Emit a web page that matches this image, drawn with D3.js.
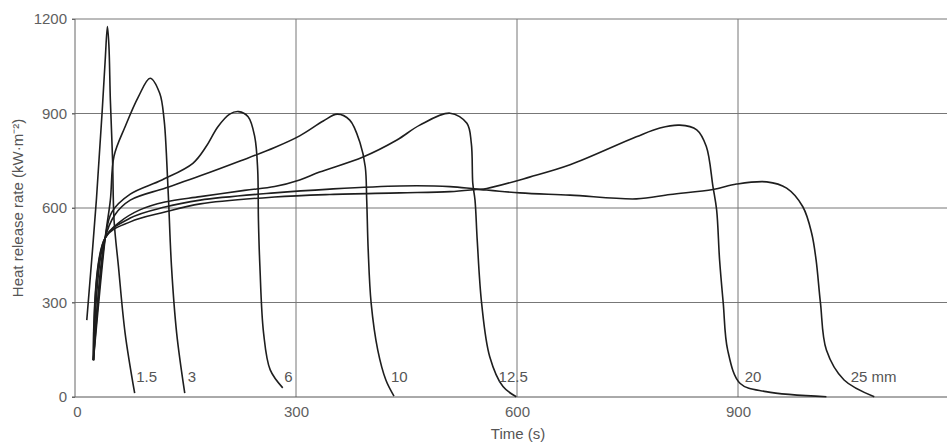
<!DOCTYPE html>
<html>
<head>
<meta charset="utf-8">
<script src="https://cdn.jsdelivr.net/npm/d3@7"></script>
<style>
  body { margin: 0; background: #fff; }
  svg { display: block; font-family: "Liberation Sans", Arial, sans-serif; }
  .grid line { stroke: #777; stroke-width: 1; }
  .axis path, .axis line { stroke: #666; }
  .axis text { fill: #606060; font-size: 15px; }
  .curve { fill: none; stroke: #1e1e1e; stroke-width: 1.6; }
  .curve-label { fill: #555; font-size: 15px; }
  .title { fill: #555; font-size: 15px; }
</style>
</head>
<body>
<div id="chart"></div>
<script>
// heat release rate vs time for different sample thicknesses
var thickness = ["1.5", "3", "6", "10", "12.5", "20", "25 mm"];
var xTicks = [0, 300, 600, 900];
var yTicks = [0, 300, 600, 900, 1200];

// [time (s), HRR (kW/m2)]
var hrr1_5 = [[16,244],[29,625],[37,911],[41,1070],[44,1176],[46,1117],[48,943],[51,752],[53,562],[59,414],[68,203],[81,12]];
var hrr3 = [[25,117],[41,505],[48,625],[53,765],[68,858],[86,953],[102,1012],[115,964],[121,879],[124,775],[127,625],[131,414],[138,203],[149,12]];
var hrr6 = [[25,117],[41,505],[50,587],[75,644],[118,689],[160,742],[178,795],[194,858],[210,898],[222,906],[235,890],[244,826],[248,721],[249,562],[251,414],[256,203],[265,86],[282,29]];
var hrr10 = [[25,117],[41,505],[54,578],[75,625],[122,663],[170,702],[224,749],[271,792],[305,829],[337,876],[356,898],[373,879],[387,806],[394,731],[396,625],[398,467],[402,298],[411,149],[422,54],[433,3]];
var hrr12_5 = [[25,117],[41,505],[61,556],[88,594],[122,619],[170,636],[230,656],[271,668],[305,689],[332,714],[391,762],[437,816],[468,863],[509,901],[532,869],[538,805],[540,678],[543,625],[546,498],[552,297],[563,128],[581,33],[599,1]];
var hrr20 = [[25,117],[41,505],[75,556],[122,587],[170,613],[271,635],[346,643],[441,648],[509,652],[545,659],[559,662],[617,698],[672,737],[762,826],[794,854],[821,863],[844,848],[857,795],[866,668],[871,594],[875,435],[880,297],[886,149],[903,43],[938,17],[1020,1]];
var hrr25 = [[25,117],[41,505],[75,568],[122,603],[170,625],[271,648],[346,660],[441,670],[509,668],[545,660],[604,648],[672,641],[762,629],[808,643],[866,659],[898,676],[939,683],[966,663],[988,604],[1000,520],[1006,435],[1012,297],[1020,149],[1044,54],[1085,1]];

// where each thickness label sits (time s)
var labelTimes = [83, 153, 284, 429, 575, 909, 1053];
var labelValue = 48;

var series = [hrr1_5, hrr3, hrr6, hrr10, hrr12_5, hrr20, hrr25];

var width = 947, height = 443;
var svg = d3.select("#chart").append("svg")
    .attr("width", width)
    .attr("height", height);

var x = d3.scaleLinear().domain([0, 1200]).range([75, 959]);
var y = d3.scaleLinear().domain([0, 1200]).range([397, 19]);

// grid
var grid = svg.append("g").attr("class", "grid");
grid.selectAll(".hgrid")
    .data(yTicks.filter(function(d) { return d > 0; }))
    .enter().append("line")
    .attr("x1", x(0) - 3).attr("x2", width)
    .attr("y1", function(d) { return y(d); })
    .attr("y2", function(d) { return y(d); });
grid.selectAll(".vgrid")
    .data(xTicks.filter(function(d) { return d > 0; }))
    .enter().append("line")
    .attr("stroke", "#888")
    .attr("x1", function(d) { return x(d); })
    .attr("x2", function(d) { return x(d); })
    .attr("y1", y(1200)).attr("y2", y(0));

// axes
svg.append("g")
    .attr("class", "axis")
    .attr("transform", "translate(0," + y(0) + ")")
    .call(d3.axisBottom(x).tickValues(xTicks).tickSize(0).tickPadding(9))
    .call(function(g) { g.select(".domain").remove(); })
    .call(function(g) { g.selectAll(".tick text").attr("dx", function(d) { return d === 0 ? 2 : 0; }); });
svg.append("line")
    .attr("x1", x(0) - 3).attr("x2", width)
    .attr("y1", y(0)).attr("y2", y(0))
    .attr("stroke", "#555");

svg.append("g")
    .attr("class", "axis")
    .attr("transform", "translate(" + x(0) + ",0)")
    .call(d3.axisLeft(y).tickValues(yTicks).tickFormat(d3.format("d")).tickSize(3).tickPadding(5).tickSizeOuter(0))
    .call(function(g) { g.select(".domain").attr("d", "M0," + y(0) + "V" + y(1200)); });

// curves
var line = d3.line()
    .x(function(d) { return x(d[0]); })
    .y(function(d) { return y(d[1]); })
    .curve(d3.curveCatmullRom.alpha(0.5));

svg.append("g")
    .selectAll(".curve")
    .data(series)
    .enter().append("path")
    .attr("class", "curve")
    .attr("d", line);

svg.append("g")
    .selectAll(".curve-label")
    .data(thickness)
    .enter().append("text")
    .attr("class", "curve-label")
    .attr("x", function(d, i) { return x(labelTimes[i]); })
    .attr("y", y(labelValue))
    .text(function(d) { return d; });

// titles
svg.append("text")
    .attr("class", "title")
    .attr("x", 518).attr("y", 439)
    .attr("text-anchor", "middle")
    .text("Time (s)");

svg.append("text")
    .attr("class", "title")
    .attr("transform", "translate(23,208) rotate(-90)")
    .attr("text-anchor", "middle")
    .text("Heat release rate (kW·m⁻²)");
</script>
</body>
</html>
